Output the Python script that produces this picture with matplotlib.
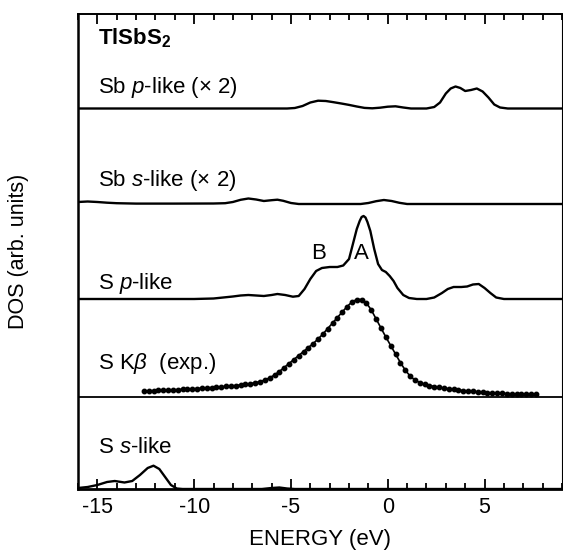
import numpy as np
import matplotlib.pyplot as plt
from matplotlib.ticker import MultipleLocator

plt.rcParams['font.family'] = ['Liberation Sans', 'DejaVu Sans']
plt.rcParams['mathtext.fontset'] = 'custom'
plt.rcParams['mathtext.rm'] = 'Liberation Sans'
plt.rcParams['mathtext.it'] = 'Liberation Sans:italic'
plt.rcParams['mathtext.bf'] = 'Liberation Sans:bold'
plt.rcParams['axes.unicode_minus'] = False

# vertical offset of each spectrum (arb. units)
offsets = {'sbp': 380.5, 'sbs': 285, 'sp': 190, 'kb': 92, 'ss': 0}

# Sb p-like (x 2)
sbp_e = [-16, -5.2, -4.8, -4.4, -4.0, -3.6, -3.2, -2.8, -2.4, -2.0, -1.6, -1.2, -0.8, -0.4, 0.0, 0.4, 0.8, 1.2,
         2.0, 2.4, 2.7, 3.0, 3.25, 3.5, 3.75, 4.0, 4.3, 4.6, 4.9, 5.2, 5.5, 5.8, 6.2, 9]
sbp_d = [0, 0, 0.5, 2.5, 6, 7.8, 7.5, 6.3, 5, 3.6, 2, 0.6, 0.2, 0.8, 1.8, 2.2, 1, 0,
         0, 1.5, 6, 15, 20, 22, 20.5, 17.5, 18.5, 20, 17, 11, 4, 1, 0, 0]

# Sb s-like (x 2)
sbs_e = [-16, -15.5, -15, -14.5, -14, -13, -11, -9, -8.4, -8.0, -7.6, -7.2, -6.8, -6.4, -6.0, -5.7, -5.4, -5.0,
         -4.6, -1.4, -1.0, -0.6, -0.2, 0.2, 0.6, 1.0, 9]
sbs_d = [2, 2.5, 2, 1.3, 0.8, 0.4, 0.4, 0.5, 0.8, 2, 4.2, 5.5, 4.5, 3, 3.8, 4.3, 3.2, 1,
         0, 0, 1, 2.8, 4, 3, 1.2, 0, 0]

# S p-like
sp_e = [-16, -10, -9, -8.5, -8.0, -7.6, -7.2, -6.8, -6.4, -6.0, -5.7, -5.3, -4.9, -4.6, -4.3, -4.0, -3.7, -3.4,
        -3.0, -2.6, -2.3, -2.0, -1.8, -1.6, -1.45, -1.35, -1.25, -1.15, -1.05, -0.9, -0.7, -0.5, -0.3, -0.1,
        0.1, 0.3, 0.5, 0.8, 1.1, 1.5, 2.0, 2.4, 2.8, 3.1, 3.4, 3.8, 4.1, 4.4, 4.7, 5.0, 5.3, 5.6, 6.0, 9]
sp_d = [0, 0, 0.5, 1.5, 2.5, 3.5, 4, 3.5, 3, 4, 5, 4, 2.3, 3, 10, 20, 28, 31,
        32, 32, 33.5, 40, 55, 70, 78, 82, 83, 81.5, 77, 68, 50, 35, 29, 27,
        23, 18, 11, 4, 1, 0, 0, 1.5, 6, 10, 12, 12, 12.5, 14.5, 15, 11, 6, 1.5, 0, 0]

# S K-beta experiment (dots)
kb_e = np.linspace(-12.6, 7.65, 82)
kb_d = [6.0, 6.2, 6.4, 6.6, 6.8, 7.0, 7.2, 7.4, 7.6, 7.9, 8.2, 8.5, 8.8, 9.1, 9.4, 9.8, 10.2, 10.6, 11.0,
        11.5, 12.1, 12.7, 13.4, 14.3, 15.4, 17.0, 19.2, 22.0, 25.5, 29.5, 33.5, 37.5, 41.5, 45.5, 49.5,
        53.5, 58.0, 63.0, 68.5, 74.0, 79.5, 85.0, 90.5, 95.0, 97.5, 97.5, 94.0, 87.0, 78.0, 69.0, 60.0,
        51.5, 43.0, 34.5, 27.0, 21.0, 17.0, 14.5, 12.8, 11.5, 10.5, 9.6, 8.9, 8.2, 7.6, 7.0, 6.5, 6.0,
        5.6, 5.2, 4.8, 4.4, 4.1, 3.8, 3.6, 3.4, 3.2, 3.0, 2.9, 2.8, 2.7, 2.6]

# S s-like
ss_e = [-16, -15.5, -15, -14.5, -14.1, -13.6, -13.2, -12.8, -12.4, -12.1, -11.8, -11.5, -11.2, -10.9, -10.6,
        -6.5, -6.0, -5.6, -5.2, -4.8, 9]
ss_d = [1, 2, 4, 7, 8, 6.5, 8, 14, 21, 23.3, 20, 12, 4, 0.5, 0,
        0, 1, 1.5, 0.5, 0, 0]

fig = plt.figure(figsize=(5.63, 5.55), dpi=100)
ax = fig.add_axes([78 / 563, 1 - 489 / 555, (562 - 78) / 563, (489 - 13.5) / 555])

lw = 1.7
ax.plot(sbp_e, np.array(sbp_d) + offsets['sbp'], color='black', lw=lw)
ax.plot(sbs_e, np.array(sbs_d) + offsets['sbs'], color='black', lw=lw)
ax.plot(sp_e, np.array(sp_d) + offsets['sp'], color='black', lw=lw)
ax.axhline(offsets['kb'], color='black', lw=1.3)
ax.plot(kb_e, np.array(kb_d) + offsets['kb'], color='black', lw=1.2, marker='o', ms=3.2)
ax.plot(ss_e, np.array(ss_d) + offsets['ss'], color='black', lw=lw)

ax.set_xlim(-16, 9)
ax.set_ylim(0, 475.5)
ax.set_yticks([])
ax.xaxis.set_major_locator(MultipleLocator(5))
ax.xaxis.set_minor_locator(MultipleLocator(1))
ax.tick_params(axis='x', which='both', direction='in', top=True, bottom=True, width=1.3, labelsize=15.5, pad=6)
ax.tick_params(axis='x', which='major', length=7)
ax.tick_params(axis='x', which='minor', length=4)
ax.spines['bottom'].set_linewidth(2)
ax.spines['left'].set_linewidth(1.8)
ax.spines['top'].set_linewidth(1.4)
ax.spines['right'].set_linewidth(0.8)

fs = 16
lx = -14.95
ax.text(lx, 444.7, r'$\mathbf{TlSbS_2}$', fontsize=16, va='baseline')
ax.text(lx, 396.3, r'Sb $p$-like (× 2)', fontsize=fs, va='baseline')
ax.text(lx, 303, r'Sb $s$-like (× 2)', fontsize=fs, va='baseline')
ax.text(lx, 199.7, r'S $p$-like', fontsize=fs, va='baseline')
ax.text(lx, 119.7, r'S K$\beta$  (exp.)', fontsize=fs, va='baseline')
ax.text(lx, 35.7, r'S $s$-like', fontsize=fs, va='baseline')
ax.text(-3.6, 229.7, 'B', fontsize=fs, va='baseline', ha='center')
ax.text(-1.35, 229.7, 'A', fontsize=fs, va='baseline', ha='center')

ax.set_xlabel('ENERGY (eV)', fontsize=16, labelpad=8)
fig.text(19 / 563, 1 - 251 / 555, 'DOS (arb. units)', rotation=90, fontsize=15.5, va='center', ha='center')

fig.savefig('out.png', dpi=100)
